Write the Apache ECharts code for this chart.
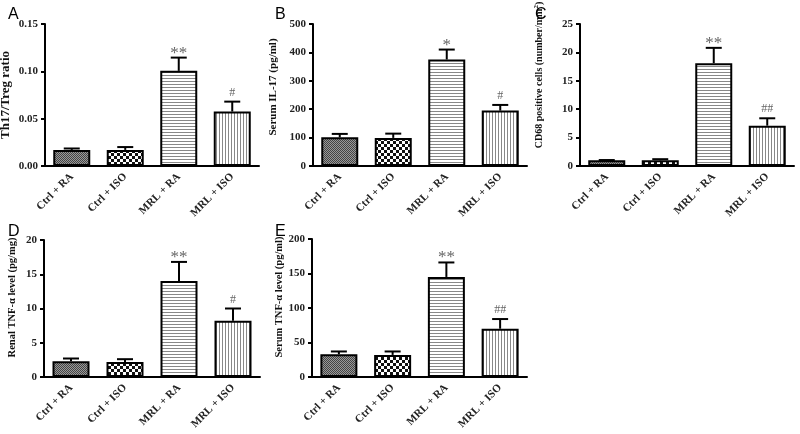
<!DOCTYPE html>
<html><head><meta charset="utf-8">
<script src="https://cdn.jsdelivr.net/npm/echarts@6/dist/echarts.min.js"></script>
<style>html,body{margin:0;padding:0;background:#fff}#c{width:800px;height:434px}</style>
</head><body><div id="c"></div>
<script>
const categories = ['Ctrl + RA', 'Ctrl + ISO', 'MRL + RA', 'MRL + ISO'];

const th17Means = [0.017, 0.017, 0.1005, 0.0575];
const th17Err   = [0.0185, 0.020, 0.1145, 0.068];
const th17Sig   = ['', '', '**', '#'];

const il17Means = [101, 99, 375, 195];
const il17Err   = [113, 114, 410, 215];
const il17Sig   = ['', '', '*', '#'];

const cd68Means = [1.0, 1.0, 18.1, 7.1];
const cd68Err   = [1.05, 1.2, 20.8, 8.4];
const cd68Sig   = ['', '', '**', '##'];

const renalMeans = [2.3, 2.2, 14.0, 8.2];
const renalErr   = [2.7, 2.6, 16.8, 10.0];
const renalSig   = ['', '', '**', '#'];

const tnfMeans = [33, 32, 145, 70];
const tnfErr   = [37, 37, 166, 84];
const tnfSig   = ['', '', '**', '##'];

const panelLetters = ['A', 'B', 'C', 'D', 'E'];

function makePattern(w, h, draw) {
  const cv = document.createElement('canvas');
  cv.width = w; cv.height = h;
  const ctx = cv.getContext('2d');
  ctx.fillStyle = '#fff'; ctx.fillRect(0, 0, w, h);
  draw(ctx);
  return { image: cv, repeat: 'repeat' };
}
const patterns = [
  makePattern(2, 2, c => { c.fillStyle = '#444'; c.fillRect(0,0,1,1); c.fillRect(1,1,1,1); c.fillStyle = '#999'; c.fillRect(1,0,1,1); c.fillRect(0,1,1,1); }),
  makePattern(6, 6, c => { c.fillStyle = '#111'; c.fillRect(0,0,3,3); c.fillRect(3,3,3,3); }),
  makePattern(1, 3, c => { c.fillStyle = '#888'; c.fillRect(0,0,1,1); }),
  makePattern(3, 1, c => { c.fillStyle = '#888'; c.fillRect(0,0,1,1); })
];

const SERIF = "'Liberation Serif','DejaVu Serif',serif";
const panels = [
  { means: th17Means, err: th17Err, sig: th17Sig, max: 0.15, interval: 0.05, dec: 2,
    name: 'Th17/Treg ratio', nameSize: 13, nameGap: 33, shift: 0,
    grid: { left: 45, top: 24, width: 214, height: 142 } },
  { means: il17Means, err: il17Err, sig: il17Sig, max: 500, interval: 100, dec: 0,
    name: 'Serum IL-17 (pg/ml)', nameSize: 11, nameGap: 34, shift: 16,
    grid: { left: 313, top: 24, width: 214, height: 142 } },
  { means: cd68Means, err: cd68Err, sig: cd68Sig, max: 25, interval: 5, dec: 0,
    name: 'CD68 positive cells (number/mm{sup|2})', nameSize: 10, nameGap: 34, shift: 40,
    grid: { left: 580, top: 24, width: 214, height: 142 } },
  { means: renalMeans, err: renalErr, sig: renalSig, max: 20, interval: 5, dec: 0,
    name: 'Renal TNF-\u03b1 level (pg/mg)', nameSize: 10.5, nameGap: 26, shift: 22,
    grid: { left: 44, top: 240, width: 216, height: 137 } },
  { means: tnfMeans, err: tnfErr, sig: tnfSig, max: 200, interval: 50, dec: 0,
    name: 'Serum TNF-\u03b1 level (pg/ml)', nameSize: 10.5, nameGap: 25, shift: 22,
    grid: { left: 312, top: 239, width: 215, height: 138 } }
];
const letterPos = [[3, 2], [270, 2], [530, 2], [3, 219], [270, 219]];

const option = {
  animation: false,
  backgroundColor: '#fff',
  title: panelLetters.map((t, i) => ({
    text: t, left: letterPos[i][0], top: letterPos[i][1],
    textStyle: { fontFamily: "'Liberation Sans',Arial,sans-serif", fontSize: 16, fontWeight: 'normal', color: '#000' }
  })),
  grid: panels.map(p => Object.assign({ outerBoundsMode: 'none', containLabel: false }, p.grid)),
  xAxis: panels.map((p, i) => ({
    type: 'category', gridIndex: i, data: categories,
    axisLine: { lineStyle: { color: '#000', width: 2 } },
    axisTick: { alignWithLabel: true, length: 5, lineStyle: { color: '#000', width: 2 } },
    axisLabel: { rotate: 45, margin: 9, color: '#222', fontFamily: SERIF, fontWeight: 'bold', fontSize: 11, interval: 0 },
    splitLine: { show: false }
  })),
  yAxis: panels.map((p, i) => ({
    type: 'value', gridIndex: i, min: 0, max: p.max, interval: p.interval,
    name: p.name, nameLocation: 'middle', nameGap: p.nameGap, nameRotate: 90,
    nameTextStyle: { fontFamily: SERIF, fontWeight: 'bold', fontSize: p.nameSize, color: '#111',
      padding: [0, 0, 0, p.shift],
      rich: { sup: { fontFamily: SERIF, fontWeight: 'bold', fontSize: 7, verticalAlign: 'top', padding: [0, 0, 6, 0] } } },
    axisLine: { show: true, lineStyle: { color: '#000', width: 2 } },
    axisTick: { show: true, length: 4, lineStyle: { color: '#000', width: 2 } },
    axisLabel: { margin: 7, color: '#222', fontFamily: SERIF, fontWeight: 'bold', fontSize: 11,
      formatter: v => v.toFixed(p.dec) },
    splitLine: { show: false }
  })),
  series: []
};

panels.forEach((p, i) => {
  option.series.push({
    type: 'bar', xAxisIndex: i, yAxisIndex: i, barWidth: 37,
    data: p.means.map((v, k) => ({ value: v, itemStyle: { color: patterns[k] } })),
    itemStyle: { borderColor: '#000', borderWidth: 2 },
    z: 2
  });
  option.series.push({
    type: 'custom', xAxisIndex: i, yAxisIndex: i, z: 3,
    data: p.means.map((v, k) => [k, v, p.err[k]]),
    encode: { x: 0, y: [1, 2] },
    renderItem: (params, api) => {
      const k = api.value(0);
      const b = api.coord([k, api.value(1)]);
      const t = api.coord([k, api.value(2)]);
      const half = 8;
      const st = { stroke: '#000', lineWidth: 2 };
      const children = [
        { type: 'line', shape: { x1: b[0], y1: b[1], x2: t[0], y2: t[1] }, style: st },
        { type: 'line', shape: { x1: t[0] - half, y1: t[1], x2: t[0] + half, y2: t[1] }, style: st }
      ];
      const s = p.sig[params.dataIndex];
      if (s) {
        const isStar = s.indexOf('*') >= 0;
        children.push({ type: 'text', x: t[0], y: t[1] + (isStar ? 4 : -3),
          style: { text: s, align: 'center', verticalAlign: 'bottom', fill: '#666',
            fontFamily: SERIF, fontSize: isStar ? 17 : 12, fontWeight: 'normal' } });
      }
      return { type: 'group', children };
    }
  });
});

const chart = echarts.init(document.getElementById('c'), null, { renderer: 'canvas' });
chart.setOption(option);
</script></body></html>
